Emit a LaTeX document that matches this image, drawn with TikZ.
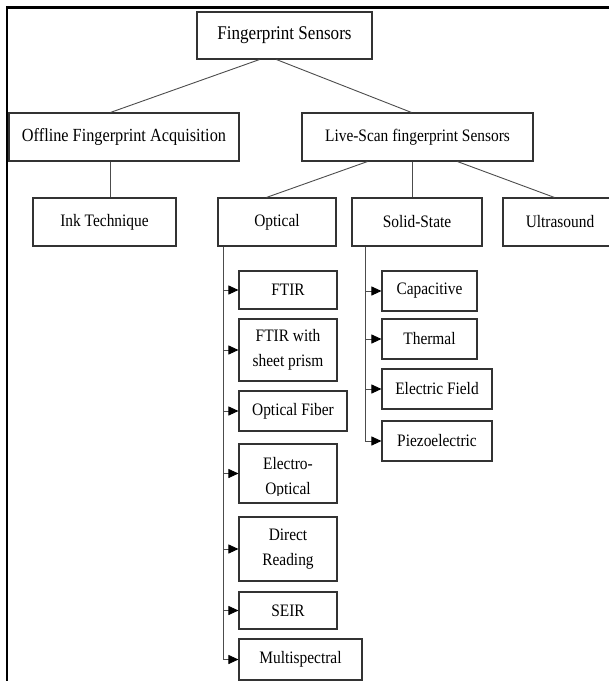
\documentclass[tikz,border=0pt]{standalone}
\usepackage{fontspec}
\setmainfont{Liberation Serif}[FakeStretch=0.88]
\usetikzlibrary{arrows.meta,calc}
\begin{document}
\begin{tikzpicture}[x=1pt,y=-1pt,
  box/.style={draw=black!80, line width=1.1pt, fill=white, inner sep=0pt, align=center,
    font=\fontsize{17.5}{25}\selectfont, text=black},
  midbox/.style={box, font=\fontsize{18.5}{25}\selectfont},
  topbox/.style={box, font=\fontsize{19.4}{25}\selectfont},
  conn/.style={draw=black!70, line width=0.9pt},
  arr/.style={draw=black!70, line width=0.9pt, -{Triangle[length=10pt,width=9pt,color=black]}},
  frame/.style={draw=black, line width=2.2pt}]
\useasboundingbox (0,0) rectangle (609,681);
\draw[frame] (7,690) -- (7,7.5) -- (620,7.5);

% level 0/1/2
\node[topbox, minimum width=175pt, minimum height=47pt] (fs) at (284.5,35.5) {Fingerprint Sensors};
\node[midbox, minimum width=230pt, minimum height=48pt] (off) at (124,137) {Offline Fingerprint Acquisition};
\node[box, minimum width=231pt, minimum height=48pt] (live) at (417.5,137) {Live-Scan fingerprint Sensors};
\node[box, minimum width=143pt, minimum height=48pt] (ink) at (104.5,222) {Ink Technique};
\node[box, minimum width=118pt, minimum height=48pt] (opt) at (277,222) {Optical};
\node[box, minimum width=130pt, minimum height=48pt] (ss) at (417,222) {Solid-State};
\node[box, minimum width=114pt, minimum height=48pt] (us) at (560,222) {Ultrasound};

% optical children
\node[box, minimum width=98pt, minimum height=38pt] (ftir) at (288,290) {FTIR};
\node[box, minimum width=98pt, minimum height=62pt] (ftirs) at (288,350) {FTIR with\\sheet prism};
\node[box, minimum width=108pt, minimum height=40pt] (ofib) at (293,411) {Optical Fiber};
\node[box, minimum width=98pt, minimum height=59pt] (eo) at (288,473.5) {};
\begin{scope}
  \clip ($(eo.north west)+(0,1)$) rectangle ($(eo.south east)+(0,-8)$);
  \node[font=\fontsize{17.5}{25}\selectfont, align=center, inner sep=0pt] (eotext) at ($(eo.center)+(0,4.5)$) {Electro-\\Optical};
\end{scope}
\node[box, minimum width=98pt, minimum height=64pt] (dr) at (288,549) {Direct\\Reading};
\node[box, minimum width=98pt, minimum height=37pt] (seir) at (288,610.5) {SEIR};
\node[box, minimum width=123pt, minimum height=41pt] (ms) at (300.5,659.5) {Multispectral};

% solid-state children
\node[box, minimum width=95pt, minimum height=40pt] (cap) at (429.5,291) {Capacitive};
\node[box, minimum width=95pt, minimum height=40pt] (th) at (429.5,339) {Thermal};
\node[box, minimum width=110pt, minimum height=40pt] (ef) at (437,389) {Electric Field};
\node[box, minimum width=110pt, minimum height=40pt] (pz) at (437,441) {Piezoelectric};

% tree connectors
\draw[conn] ($(fs.south west)+(63,0)$) -- ($(off.north west)+(102,0)$);
\draw[conn] ($(fs.south west)+(80,0)$) -- ($(live.north west)+(110,0)$);
\draw[conn] ($(off.south west)+(102,0)$) -- ($(ink.north west)+(78,0)$);
\draw[conn] ($(live.south west)+(66,0)$) -- ($(opt.north west)+(49,0)$);
\draw[conn] ($(live.south west)+(111,0)$) -- ($(ss.north west)+(61,0)$);
\draw[conn] ($(live.south west)+(156,0)$) -- ($(us.north west)+(52,0)$);

% optical branch
\coordinate (ox) at ($(opt.south west)+(6,0)$);
\draw[conn] (ox) -- (ms.west -| ox);
\foreach \n in {ftir,ftirs,ofib,eo,dr,seir,ms}
  \draw[arr] (\n.west -| ox) -- (\n.west);

% solid-state branch
\coordinate (sx) at ($(ss.south west)+(14,0)$);
\draw[conn] (sx) -- (pz.west -| sx);
\foreach \n in {cap,th,ef,pz}
  \draw[arr] (\n.west -| sx) -- (\n.west);
\end{tikzpicture}
\end{document}
